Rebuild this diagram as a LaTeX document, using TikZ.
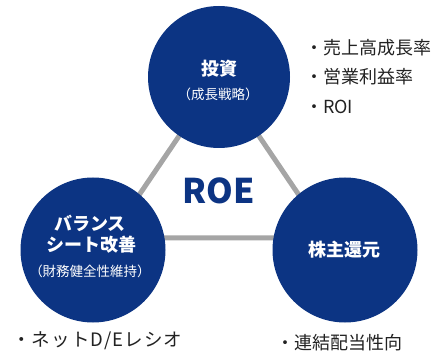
\documentclass[tikz,border=0pt]{standalone}
\usepackage{fontspec}
\setmainfont{Noto Sans CJK JP}
\newfontfamily\jp{Noto Sans CJK JP}
\newfontfamily\jpwide{Noto Sans CJK JP}[LetterSpace=6]
\definecolor{navy}{RGB}{12,52,131}
\definecolor{linegray}{RGB}{165,165,165}
\definecolor{txt}{RGB}{34,34,34}
\tikzset{
  hub/.style={circle,fill=navy,draw=none,inner sep=0pt},
  inlabel/.style={text=white,font=\jp\bfseries\fontsize{18}{20}\selectfont,inner sep=0pt,anchor=center},
  insub/.style={text=white,font=\jp\fontsize{13.5}{15}\selectfont,inner sep=0pt,anchor=center},
  listitem/.style={text=txt,font=\jp\fontsize{18}{20}\selectfont,inner sep=0pt,anchor=west},
  edge/.style={draw=linegray,line width=5pt}
}
\begin{document}
\begin{tikzpicture}[x=1pt,y=-1pt]
\useasboundingbox (0,0) rectangle (440,353);
\coordinate (apex) at (219,77);
\coordinate (bl) at (110,238);
\coordinate (br) at (328,238);
\draw[edge] (apex) -- (bl) -- (br) -- cycle;
\node[hub,minimum size=142pt] (top) at (219,77) {};
\node[hub,minimum size=145pt] (left) at (93,250) {};
\node[hub,minimum size=145pt] (right) at (345,250) {};
\node[text=navy,font=\jp\bfseries\fontsize{34}{35}\selectfont,inner sep=0pt] (roe) at (219,191) {ROE};
\node[inlabel] (t1) at (219,69) {投資};
\node[insub] (t2) at (218,94) {（成長戦略）};
\node[inlabel] (l1) at (90,223) {バランス};
\node[inlabel] (l2) at (91,245) {シート改善};
\node[insub] (l3) at (90,271) {（財務健全性維持）};
\node[inlabel] (r1) at (344,250) {株主還元};
\node[listitem] (a1) at (305,48) {・売上高成長率};
\node[listitem] (a2) at (305,77) {・営業利益率};
\node[listitem] (a3) at (305,107) {・ROI};
\node[listitem,font=\jpwide\fontsize{18.5}{20}\selectfont] (b1) at (12,341) {・ネットD/Eレシオ};
\node[listitem] (c1) at (276,343) {・連結配当性向};
\end{tikzpicture}
\end{document}
